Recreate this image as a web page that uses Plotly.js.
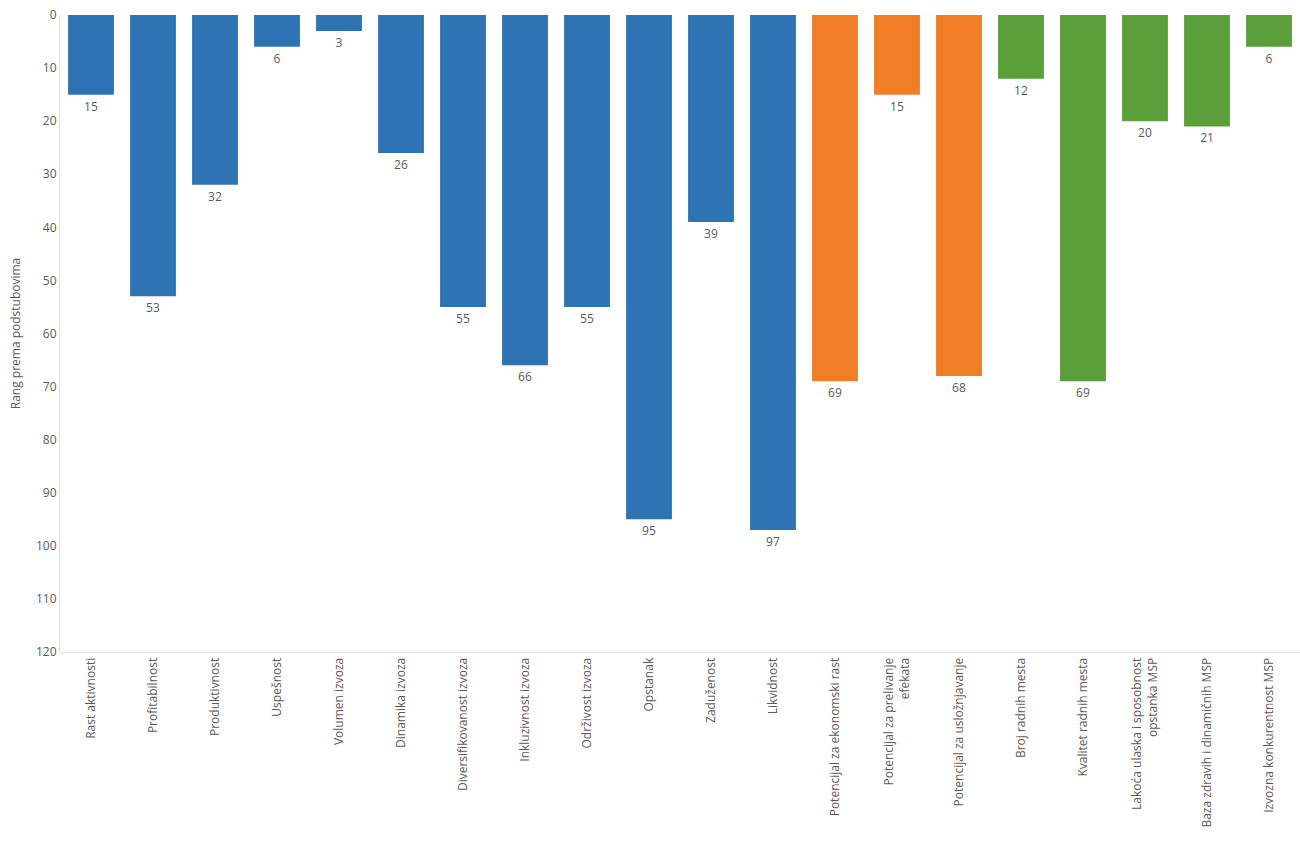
<!DOCTYPE html>
<html>
<head>
<meta charset="utf-8">
<script src="https://cdn.plot.ly/plotly-3.0.1.min.js"></script>
<style>html,body{margin:0;padding:0;background:#fff;}#chart{width:1300px;height:849px;}</style>
</head>
<body>
<div id="chart"></div>
<script>
const categories = [
  "Rast aktivnosti", "Profitabilnost", "Produktivnost", "Uspešnost", "Volumen izvoza",
  "Dinamika izvoza", "Diversifikovanost izvoza", "Inkluzivnost izvoza", "Održivost izvoza",
  "Opstanak", "Zaduženost", "Likvidnost", "Potencijal za ekonomski rast",
  "Potencijal za prelivanje<br>efekata", "Potencijal za usložnjavanje", "Broj radnih mesta",
  "Kvalitet radnih mesta", "Lakoća ulaska i sposobnost<br>opstanka MSP",
  "Baza zdravih i dinamičnih MSP", "Izvozna konkurentnost MSP"
];
const ranks = [15, 53, 32, 6, 3, 26, 55, 66, 55, 95, 39, 97, 69, 15, 68, 12, 69, 20, 21, 6];
const groups = ["A","A","A","A","A","A","A","A","A","A","A","A","B","B","B","C","C","C","C","C"];
const yTicks = [0, 10, 20, 30, 40, 50, 60, 70, 80, 90, 100, 110, 120];

const groupColors = {A: "#2E74B5", B: "#F07E26", C: "#5A9F3A"};

const trace = {
  type: "bar",
  x: categories,
  y: ranks,
  text: ranks.map(String),
  textposition: "outside",
  cliponaxis: false,
  textfont: {family: "Open Sans, sans-serif", size: 12, color: "#595959"},
  marker: {color: groups.map(g => groupColors[g])},
  hoverinfo: "x+y"
};

const layout = {
  width: 1300, height: 849,
  margin: {l: 60, r: 0, t: 15, b: 197},
  paper_bgcolor: "#fff", plot_bgcolor: "#fff",
  bargap: 0.26,
  showlegend: false,
  font: {family: "Open Sans, sans-serif", size: 12, color: "#595959"},
  xaxis: {
    type: "category",
    tickangle: -90,
    showline: true, linecolor: "#e3e3e3", linewidth: 1,
    showgrid: false, ticks: "",
    tickfont: {size: 12, color: "#595959"},
    automargin: false
  },
  yaxis: {
    range: [120, 0],
    tickvals: yTicks,
    showline: true, linecolor: "#e3e3e3", linewidth: 1,
    showgrid: false, zeroline: false, ticks: "",
    tickfont: {size: 12, color: "#595959"},
    title: {text: "Rang prema podstubovima", font: {size: 12, color: "#595959"}, standoff: 12},
    automargin: false
  }
};

Plotly.newPlot("chart", [trace], layout, {displayModeBar: false, staticPlot: true});
</script>
</body>
</html>
